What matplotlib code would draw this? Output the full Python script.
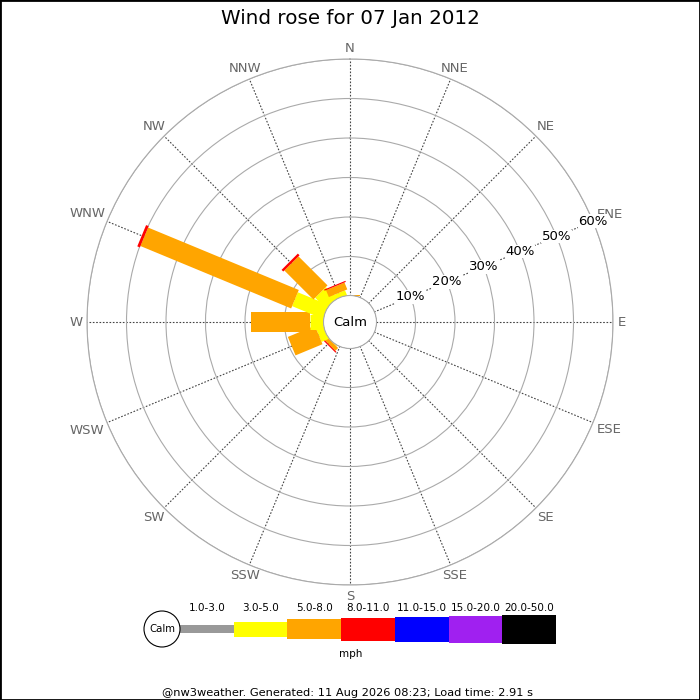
import matplotlib
matplotlib.use('Agg')
import matplotlib.pyplot as plt
import numpy as np

# wind rose data, percent of time per direction and speed band
directions = ['N', 'NNE', 'NE', 'ENE', 'E', 'ESE', 'SE', 'SSE',
              'S', 'SSW', 'SW', 'WSW', 'W', 'WNW', 'NW', 'NNW']
bands = ['1.0-3.0', '3.0-5.0', '5.0-8.0', '8.0-11.0', '11.0-15.0', '15.0-20.0', '20.0-50.0']
band_colors = ['#999999', '#ffff00', '#ffa500', '#ff0000', '#0000ff', '#a020f0', '#000000']
band_px = [8, 15, 20, 23, 25, 27, 29]   # bar thickness in pixels

#          N    NNE  NE   ENE  E    ESE  SE   SSE  S    SSW  SW   WSW  W     WNW   NW    NNW
b1_3  = [0,   0,   0,   0,   0,   0,   0,   0,   0,   0,   0,   0,   0.3,  0,    0,    0]
b3_5  = [0,   0,   0,   0,   0,   0,   0,   0,   0,   0,   0.2, 2.0, 3.3,  8.5,  4.0,  1.3]
b5_8  = [0.25, 0,  0,   0,   0,   0,   0,   0,   0,   0,   1.0, 7.4, 14.9, 41.3, 10.4, 1.9]
b8_11 = [0,   0,   0,   0,   0,   0,   0,   0,   0,   0,   0.3, 0,   0,    0.7,  0.6,  0.3]
b11_15 = [0] * 16
b15_20 = [0] * 16
b20_50 = [0] * 16
band_values = [b1_3, b3_5, b5_8, b8_11, b11_15, b15_20, b20_50]

rings = [10, 20, 30, 40, 50, 60]
title = 'Wind rose for 07 Jan 2012'
footer = '@nw3weather. Generated: 11 Aug 2026 08:23; Load time: 2.91 s'

R_PX = 263.0      # radius of the 60% ring in pixels
RORIGIN = -6.58

fig = plt.figure(figsize=(7, 7), dpi=100)
ax = fig.add_axes([87 / 700, 115 / 700, 526 / 700, 526 / 700], projection='polar')
ax.set_theta_zero_location('N')
ax.set_theta_direction(-1)
ax.set_ylim(0, 60)
ax.set_rorigin(RORIGIN)

angles = np.arange(16) * 22.5
th = np.radians(angles)
ax.set_thetagrids(angles, [''] * 16)
ax.set_rgrids(rings, labels=[''] * len(rings))
ax.tick_params(axis='both', length=0)
ax.xaxis.grid(True, color='#444444', linestyle=(0, (1.5, 1.5)), linewidth=0.8)
ax.yaxis.grid(True, color='#aaaaaa', linestyle='-', linewidth=0.8)
ax.spines['polar'].set_color('#aaaaaa')
ax.spines['polar'].set_linewidth(0.8)
ax.spines['inner'].set_visible(False)

# stacked bars of constant pixel width
for i in range(16):
    start = 0.0
    for vals, col, w in zip(band_values, band_colors, band_px):
        v = vals[i]
        if v <= 0:
            continue
        ax.plot([th[i], th[i]], [start, start + v], color=col, lw=w * 0.72,
                solid_capstyle='butt', zorder=3)
        start += v

# compass labels: text box edge sits a fixed gap outside the outer ring
renderer = fig.canvas.get_renderer()
for t, name in zip(th, directions):
    txt = ax.text(t, 60, name, ha='center', va='center', fontsize=9.5,
                  color='#666666', clip_on=False, zorder=4)
    bb = txt.get_window_extent(renderer)
    s, c = abs(np.sin(t)), abs(np.cos(t))
    d = min(bb.width / 2 / s if s > 1e-6 else 1e9, bb.height / 2 / c if c > 1e-6 else 1e9)
    r_px = R_PX + 4.5 + d
    txt.set_position((t, r_px * (60 - RORIGIN) / R_PX + RORIGIN))

for r in rings:
    ax.text(np.radians(67.5), r, '%d%%' % r, ha='center', va='center', fontsize=9.5,
            color='black', zorder=5,
            bbox=dict(facecolor='white', edgecolor='none', pad=0.3))

calm = plt.Circle((0.5, 0.5), 26.5 / 526, transform=ax.transAxes, facecolor='white',
                  edgecolor='#aaaaaa', linewidth=0.8, zorder=6, clip_on=False)
ax.add_artist(calm)
ax.text(0.5, 0.5, 'Calm', transform=ax.transAxes, ha='center', va='center',
        fontsize=9.5, zorder=7)

# legend
lax = fig.add_axes([140 / 700, 40 / 700, 420 / 700, 60 / 700])
lax.set_xlim(140, 560)
lax.set_ylim(660, 600)
lax.axis('off')
seg = 53.7
centers = 180 + seg / 2 + np.arange(len(bands)) * seg
bottoms = [629 - h / 2 for h in band_px]
lax.bar(centers, band_px, width=seg, bottom=bottoms, color=band_colors, linewidth=0)
for c, lab in zip(centers, bands):
    lax.text(c, 608, lab, ha='center', va='center', fontsize=7.5)
lax.add_patch(plt.Circle((162, 629), 18, facecolor='white', edgecolor='black', linewidth=0.8, zorder=4))
lax.text(162, 629.5, 'Calm', ha='center', va='center', fontsize=7.3, zorder=5)
lax.text(351, 654, 'mph', ha='center', va='center', fontsize=7.5)

fig.text(0.5, 1 - 18 / 700, title, ha='center', va='center', fontsize=14.3)
fig.text(348 / 700, 1 - 693 / 700, footer, ha='center', va='center', fontsize=8.2)
fig.add_artist(plt.Rectangle((0, 0), 1, 1, transform=fig.transFigure, fill=False,
                             edgecolor='black', linewidth=2))

fig.savefig('out.png', dpi=100)
